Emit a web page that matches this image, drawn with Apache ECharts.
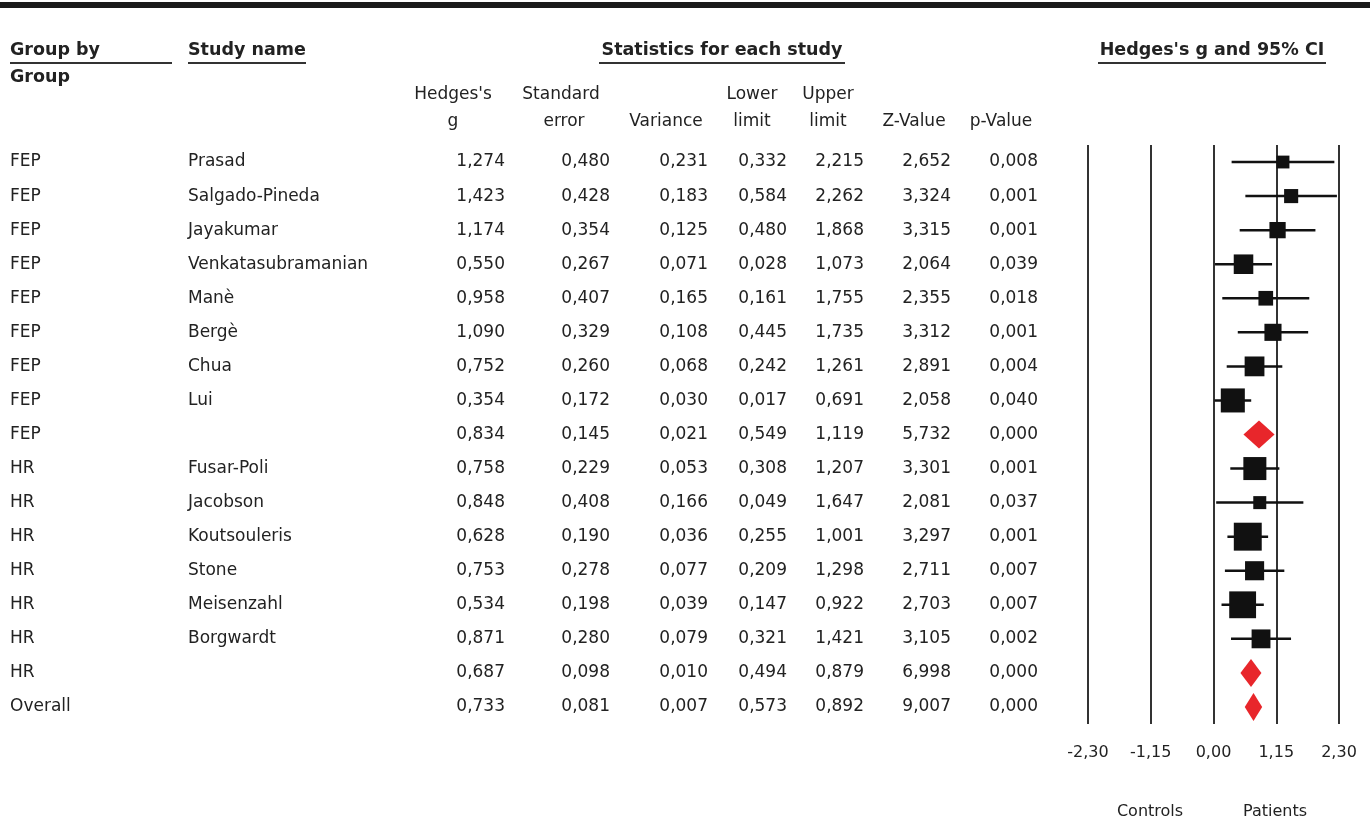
<!DOCTYPE html>
<html>
<head>
<meta charset="utf-8">
<script src="https://cdn.jsdelivr.net/npm/echarts@6/dist/echarts.min.js"></script>
<style>
  html, body { margin: 0; padding: 0; background: #fff; }
  #chart { width: 1370px; height: 821px; }
</style>
</head>
<body>
<div id="chart"></div>
<script>
// rows of the forest plot, top to bottom ('' study = subgroup / overall summary)
const groups = ['FEP', 'FEP', 'FEP', 'FEP', 'FEP', 'FEP', 'FEP', 'FEP', 'FEP',
    'HR', 'HR', 'HR', 'HR', 'HR', 'HR', 'HR', 'Overall'];
const studies = ['Prasad', 'Salgado-Pineda', 'Jayakumar', 'Venkatasubramanian', 'Manè', 'Bergè', 'Chua', 'Lui', '',
    'Fusar-Poli', 'Jacobson', 'Koutsouleris', 'Stone', 'Meisenzahl', 'Borgwardt', '', ''];
const hedgesG = [1.274, 1.423, 1.174, 0.550, 0.958, 1.090, 0.752, 0.354, 0.834,
    0.758, 0.848, 0.628, 0.753, 0.534, 0.871, 0.687, 0.733];
const stdError = [0.480, 0.428, 0.354, 0.267, 0.407, 0.329, 0.260, 0.172, 0.145,
    0.229, 0.408, 0.190, 0.278, 0.198, 0.280, 0.098, 0.081];
const variance = [0.231, 0.183, 0.125, 0.071, 0.165, 0.108, 0.068, 0.030, 0.021,
    0.053, 0.166, 0.036, 0.077, 0.039, 0.079, 0.010, 0.007];
const lowerLimit = [0.332, 0.584, 0.480, 0.028, 0.161, 0.445, 0.242, 0.017, 0.549,
    0.308, 0.049, 0.255, 0.209, 0.147, 0.321, 0.494, 0.573];
const upperLimit = [2.215, 2.262, 1.868, 1.073, 1.755, 1.735, 1.261, 0.691, 1.119,
    1.207, 1.647, 1.001, 1.298, 0.922, 1.421, 0.879, 0.892];
const zValue = [2.652, 3.324, 3.315, 2.064, 2.355, 3.312, 2.891, 2.058, 5.732,
    3.301, 2.081, 3.297, 2.711, 2.703, 3.105, 6.998, 9.007];
const pValue = [0.008, 0.001, 0.001, 0.039, 0.018, 0.001, 0.004, 0.040, 0.000,
    0.001, 0.037, 0.001, 0.007, 0.007, 0.002, 0.000, 0.000];
const xTicks = [-2.30, -1.15, 0.00, 1.15, 2.30];

// box area follows the study weight 1/(v + tau2) inside each subgroup
const boxTau2 = {FEP: 0.05, HR: 0};
const boxScale = {FEP: 6.8, HR: 5.3};

const FONT = 'DejaVu Sans';
const TXT = '#222';
const RED = '#e8262b';
const gridLeft = 1088;

const fmt = v => v.toFixed(3).replace('.', ',');

function labelAxis(values, x, align) {
    return {
        type: 'category',
        inverse: true,
        position: 'left',
        offset: gridLeft - x,
        data: values,
        axisLine: {show: false},
        axisTick: {show: false},
        splitLine: {show: false},
        axisLabel: {margin: 0, align: align, interval: 0, color: TXT, fontSize: 17, fontFamily: FONT}
    };
}

const yAxes = [
    {
        type: 'category', inverse: true, data: groups.map((g, i) => 'r' + i),
        axisLine: {show: false}, axisTick: {show: false}, axisLabel: {show: false}, splitLine: {show: false}
    },
    labelAxis(groups, 10, 'left'),
    labelAxis(studies, 188, 'left'),
    labelAxis(hedgesG.map(fmt), 505, 'right'),
    labelAxis(stdError.map(fmt), 610, 'right'),
    labelAxis(variance.map(fmt), 708, 'right'),
    labelAxis(lowerLimit.map(fmt), 787, 'right'),
    labelAxis(upperLimit.map(fmt), 864, 'right'),
    labelAxis(zValue.map(fmt), 951, 'right'),
    labelAxis(pValue.map(fmt), 1038, 'right')
];

const forestData = hedgesG.map((g, i) => [g, lowerLimit[i], upperLimit[i], variance[i], i, studies[i] === '' ? 1 : 0]);

function renderRow(params, api) {
    const i = api.value(4);
    const mid = api.coord([api.value(0), i]);
    const lo = api.coord([api.value(1), i]);
    const hi = api.coord([api.value(2), i]);
    if (api.value(5) === 1) {
        const h = 14;
        return {
            type: 'polygon',
            shape: {points: [[lo[0], mid[1]], [mid[0], mid[1] - h], [hi[0], mid[1]], [mid[0], mid[1] + h]]},
            style: {fill: RED}
        };
    }
    const grp = groups[i];
    const s = boxScale[grp] / Math.sqrt(api.value(3) + boxTau2[grp]);
    return {
        type: 'group',
        children: [
            {type: 'line', shape: {x1: lo[0], y1: mid[1], x2: hi[0], y2: mid[1]}, style: {stroke: '#111', lineWidth: 2.5}},
            {type: 'rect', shape: {x: mid[0] - s / 2, y: mid[1] - s / 2, width: s, height: s}, style: {fill: '#111'}}
        ]
    };
}

function txt(text, x, y, opt) {
    return {
        type: 'text', x: x, y: y,
        style: Object.assign({text: text, fill: TXT, font: '17px "' + FONT + '"', align: 'center', verticalAlign: 'middle'}, opt || {})
    };
}
const bold = '700 17.5px "' + FONT + '"';
function uline(x1, x2) {
    return {type: 'line', shape: {x1: x1, y1: 63, x2: x2, y2: 63}, style: {stroke: '#333', lineWidth: 2}};
}

const chart = echarts.init(document.getElementById('chart'), null, {renderer: 'canvas'});
chart.setOption({
    backgroundColor: '#fff',
    animation: false,
    grid: {left: gridLeft, right: 31, top: 145, height: 579},
    xAxis: {
        type: 'value',
        min: xTicks[0],
        max: xTicks[xTicks.length - 1],
        interval: 1.15,
        axisLine: {show: false},
        axisTick: {show: false},
        splitLine: {show: true, lineStyle: {color: '#333', width: 2}},
        axisLabel: {
            margin: 21, color: TXT, fontSize: 16, fontFamily: FONT,
            formatter: v => (Math.abs(v) < 1e-9 ? 0 : v).toFixed(2).replace('.', ',')
        }
    },
    yAxis: yAxes,
    series: [{
        type: 'custom',
        xAxisIndex: 0,
        yAxisIndex: 0,
        encode: {x: [0, 1, 2], y: 4},
        data: forestData,
        renderItem: renderRow,
        z: 5
    }],
    graphic: [
        {type: 'rect', shape: {x: 0, y: 2, width: 1370, height: 6}, style: {fill: '#1a1a1a'}},
        txt('Group by', 10, 50, {align: 'left', font: bold}),
        txt('Group', 10, 77, {align: 'left', font: bold}),
        txt('Study name', 188, 50, {align: 'left', font: bold}),
        txt('Statistics for each study', 722, 50, {font: bold}),
        txt("Hedges's g and 95% CI", 1212, 50, {font: bold}),
        uline(10, 172), uline(188, 306), uline(599, 845), uline(1098, 1326),
        txt("Hedges's", 453, 95), txt('g', 453, 122),
        txt('Standard', 561, 95), txt('error', 564, 122),
        txt('Variance', 666, 122),
        txt('Lower', 752, 95), txt('limit', 752, 122),
        txt('Upper', 828, 95), txt('limit', 828, 122),
        txt('Z-Value', 914, 122),
        txt('p-Value', 1001, 122),
        txt('Controls', 1150, 812, {font: '16px "' + FONT + '"'}),
        txt('Patients', 1275, 812, {font: '16px "' + FONT + '"'})
    ]
});
</script>
</body>
</html>
